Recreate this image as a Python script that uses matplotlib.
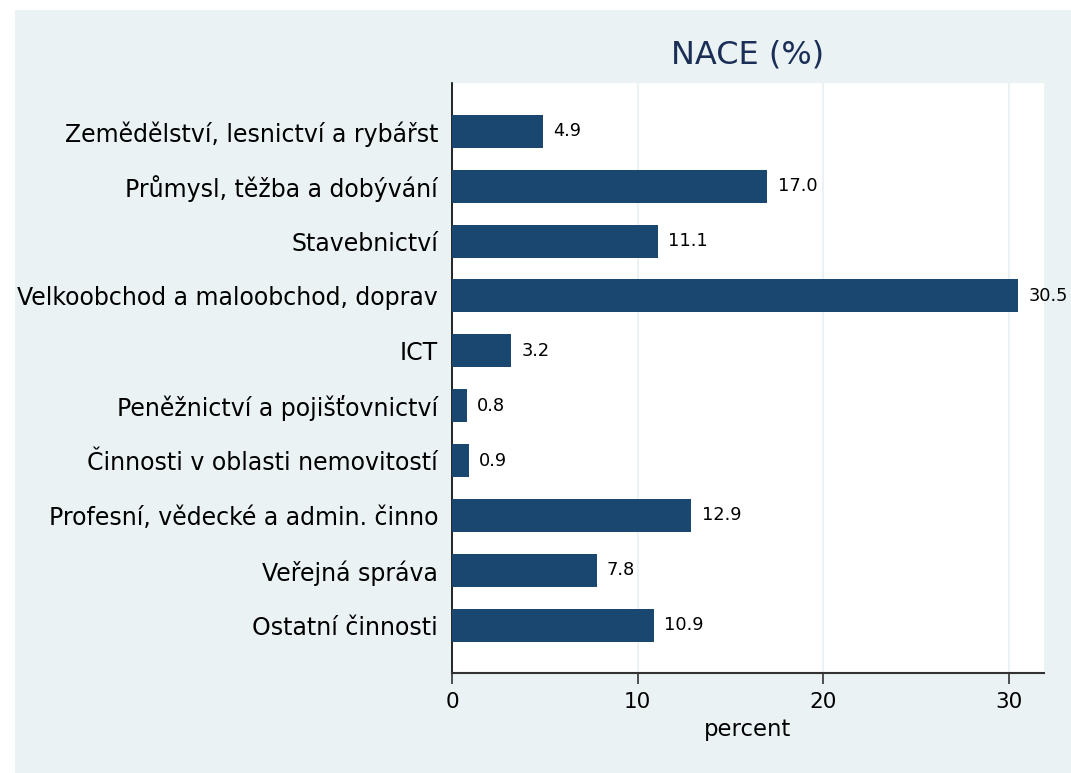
import matplotlib
matplotlib.use("Agg")
import matplotlib.pyplot as plt
from matplotlib.patches import Rectangle

categories = [
    "Zemědělství, lesnictví a rybářst",
    "Průmysl, těžba a dobývání",
    "Stavebnictví",
    "Velkoobchod a maloobchod, doprav",
    "ICT",
    "Peněžnictví a pojišťovnictví",
    "Činnosti v oblasti nemovitostí",
    "Profesní, vědecké a admin. činno",
    "Veřejná správa",
    "Ostatní činnosti",
]
values = [4.9, 17.0, 11.1, 30.5, 3.2, 0.8, 0.9, 12.9, 7.8, 10.9]
xticks = [0, 10, 20, 30]

plt.rcParams['font.family'] = ['DejaVu Sans']

W, H = 1071, 773
fig = plt.figure(figsize=(W / 100, H / 100), dpi=100)
fig.patch.set_facecolor('white')
bg = '#EAF2F3'
fig.patches.append(Rectangle((15 / W, 0), 1 - 15 / W, 1 - 10 / H,
                             transform=fig.transFigure, facecolor=bg,
                             edgecolor='none', zorder=-10))

left, right = 452 / W, 1044 / W
top, bottom = 1 - 83 / H, 1 - 673 / H
ax = fig.add_axes([left, bottom, right - left, top - bottom])
ax.set_facecolor('white')

bar_color = '#1A476F'
ypos = list(range(len(categories)))
ax.barh(ypos, values, height=0.6, color=bar_color, edgecolor='none', zorder=3)
for y, v in zip(ypos, values):
    ax.text(v + 0.55, y, f"{v:.1f}", va='center', ha='left', fontsize=12.8,
            color='black', zorder=4)

ax.set_xlim(0, 31.9)
ax.set_ylim(9.87, -0.88)
ax.set_yticks(ypos)
ax.set_yticklabels(categories, fontsize=17)
ax.tick_params(axis='y', length=0, pad=10)
ax.set_xticks(xticks)
ax.set_xticklabels([str(t) for t in xticks], fontsize=15.5)
ax.tick_params(axis='x', length=8, width=1.2, pad=6, color='#333333')
ax.xaxis.grid(True, color=bg, linewidth=1.5, zorder=0)
ax.set_axisbelow(True)

for s in ['top', 'right']:
    ax.spines[s].set_visible(False)
ax.spines['left'].set_color('black')
ax.spines['left'].set_linewidth(1.2)
ax.spines['bottom'].set_color('#333333')
ax.spines['bottom'].set_linewidth(1.5)

ax.set_xlabel('percent', fontsize=16.4, labelpad=4)
fig.text((left + right) / 2, 1 - 55 / H, 'NACE (%)', ha='center', va='center',
         fontsize=23, color='#1A2E56')

fig.savefig('out.png', dpi=100, facecolor=fig.get_facecolor())
